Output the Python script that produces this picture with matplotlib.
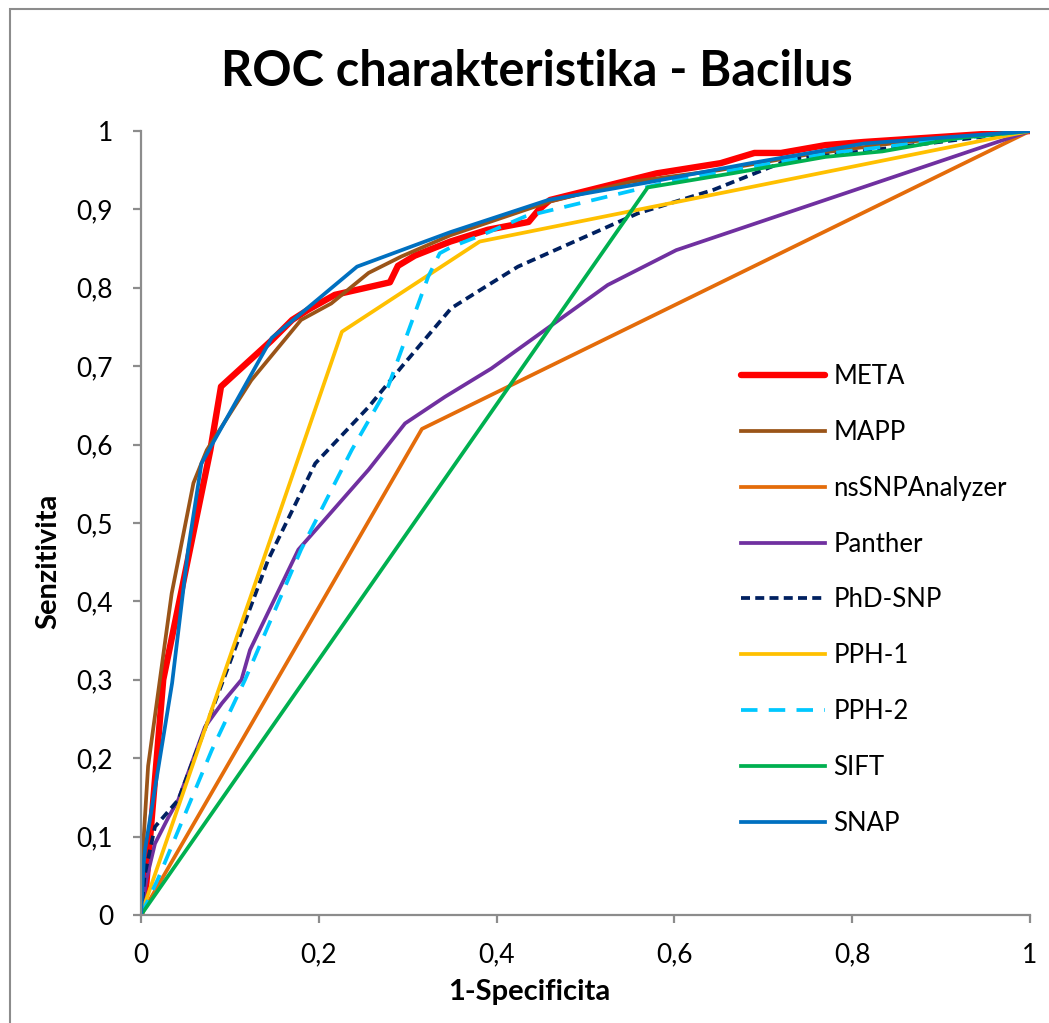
import matplotlib
matplotlib.use("Agg")
import matplotlib.pyplot as plt
from matplotlib.patches import Rectangle
from matplotlib.ticker import FuncFormatter, MultipleLocator

plt.rcParams["font.family"] = ["Lato", "DejaVu Sans"]

# ROC points (x = 1-Specificita, y = Senzitivita)
meta_x = [0, 0.006, 0.025, 0.078, 0.09, 0.147, 0.17, 0.188, 0.218, 0.28, 0.289, 0.308,
          0.348, 0.39, 0.436, 0.447, 0.46, 0.58, 0.652, 0.69, 0.72, 0.77, 0.813, 1]
meta_y = [0, 0.04, 0.30, 0.593, 0.674, 0.733, 0.759, 0.772, 0.791, 0.807, 0.828, 0.841,
          0.859, 0.874, 0.884, 0.899, 0.912, 0.946, 0.959, 0.972, 0.972, 0.982, 0.986, 1]

mapp_x = [0, 0.002, 0.008, 0.0345, 0.059, 0.074, 0.124, 0.18, 0.214, 0.256, 0.293, 0.348,
          0.387, 0.46, 0.55, 0.65, 0.75, 0.85, 1]
mapp_y = [0, 0.08, 0.19, 0.41, 0.551, 0.593, 0.682, 0.759, 0.78, 0.819, 0.84, 0.867,
          0.882, 0.91, 0.935, 0.95, 0.97, 0.985, 1]

nssnp_x = [0, 0.316, 1]
nssnp_y = [0, 0.62, 1]

panther_x = [0, 0.006, 0.0157, 0.031, 0.042, 0.072, 0.091, 0.113, 0.1226, 0.177, 0.203,
             0.256, 0.297, 0.342, 0.394, 0.525, 0.602, 1]
panther_y = [0, 0.045, 0.091, 0.125, 0.147, 0.24, 0.27, 0.30, 0.338, 0.466, 0.4995,
             0.568, 0.627, 0.661, 0.697, 0.8036, 0.848, 1]

phd_x = [0, 0.004, 0.0157, 0.042, 0.094, 0.143, 0.196, 0.256, 0.293, 0.349, 0.387, 0.424,
         0.559, 0.644, 0.728, 0.855, 1]
phd_y = [0, 0.05, 0.1125, 0.147, 0.304, 0.453, 0.576, 0.648, 0.699, 0.774, 0.801, 0.827,
         0.895, 0.925, 0.963, 0.98, 1]

pph1_x = [0, 0.226, 0.381, 1]
pph1_y = [0, 0.744, 0.859, 1]

pph2_x = [0, 0.0195, 0.0795, 0.117, 0.18, 0.237, 0.278, 0.323, 0.336, 0.349, 0.387, 0.432,
          0.602, 0.77, 0.898, 1]
pph2_y = [0, 0.047, 0.21, 0.30, 0.466, 0.593, 0.674, 0.814, 0.844, 0.852, 0.869, 0.891,
          0.9375, 0.971, 0.988, 1]

sift_x = [0, 0.57, 0.665, 0.77, 0.834, 0.919, 1]
sift_y = [0, 0.928, 0.946, 0.967, 0.974, 0.991, 1]

snap_x = [0, 0.003, 0.0045, 0.035, 0.053, 0.068, 0.147, 0.243, 0.348, 0.458, 0.568, 0.686, 0.813, 1]
snap_y = [0, 0.066, 0.083, 0.296, 0.466, 0.576, 0.736, 0.827, 0.871, 0.912, 0.934, 0.959, 0.984, 1]

W, H = 1049, 1023
fig = plt.figure(figsize=(W / 100, H / 100), dpi=100)
ax = fig.add_axes([141 / W, 1 - 915 / H, (1030 - 141) / W, (915 - 131) / H])

# outer chart frame (grey)
fig.patches.append(Rectangle((10 / W, -0.1), 1.2, 1.1 - 9 / H, transform=fig.transFigure,
                             fill=False, edgecolor="#8c8c8c", linewidth=1.5))

lw = 2.7
ax.plot(meta_x, meta_y, color="#ff0000", lw=4.6, label="META", solid_capstyle="round")
ax.plot(mapp_x, mapp_y, color="#9a5418", lw=lw, label="MAPP")
ax.plot(nssnp_x, nssnp_y, color="#e46c0a", lw=lw, label="nsSNPAnalyzer")
ax.plot(panther_x, panther_y, color="#7030a0", lw=lw, label="Panther")
ax.plot(phd_x, phd_y, color="#002060", lw=lw, dashes=(2.4, 1.4), label="PhD-SNP")
ax.plot(pph1_x, pph1_y, color="#ffc000", lw=lw, label="PPH-1")
ax.plot(pph2_x, pph2_y, color="#00c8ff", lw=lw, dashes=(4.4, 3.0), label="PPH-2")
ax.plot(sift_x, sift_y, color="#00b050", lw=lw, label="SIFT")
ax.plot(snap_x, snap_y, color="#0070c0", lw=lw, label="SNAP")

ax.set_xlim(0, 1)
ax.set_ylim(0, 1)
ax.xaxis.set_major_locator(MultipleLocator(0.2))
ax.yaxis.set_major_locator(MultipleLocator(0.1))
fmt = FuncFormatter(lambda v, p: ("%g" % round(v, 2)).replace(".", ","))
ax.xaxis.set_major_formatter(fmt)
ax.yaxis.set_major_formatter(fmt)

for s in ["top", "right"]:
    ax.spines[s].set_visible(False)
for s in ["left", "bottom"]:
    ax.spines[s].set_color("#8c8c8c")
    ax.spines[s].set_linewidth(1.6)
ax.tick_params(axis="both", direction="out", length=6, width=1.6, color="#8c8c8c",
               labelsize=19, pad=14)

ax.set_xlabel("1-Specificita", fontsize=21, fontweight="bold")
ax.set_ylabel("Senzitivita", fontsize=21, fontweight="bold")
ax.xaxis.set_label_coords((529 - 141) / 889, (915 - 992) / 784)
ax.yaxis.set_label_coords((48 - 141) / 889, (915 - 561) / 784)
ax.xaxis.label.set_va("center")
ax.yaxis.label.set_va("center")

fig.text(537 / W, 1 - 72 / H, "ROC charakteristika - Bacilus", fontsize=35,
         fontweight="bold", ha="center", va="center")

ax.legend(loc="upper left", bbox_to_anchor=(741 / W, 1 - 364 / H),
          bbox_transform=fig.transFigure, frameon=False, fontsize=18.5,
          handlelength=3.25, handletextpad=0.35, labelspacing=1.2, borderpad=0,
          borderaxespad=0)

fig.savefig("out.png", dpi=100)
